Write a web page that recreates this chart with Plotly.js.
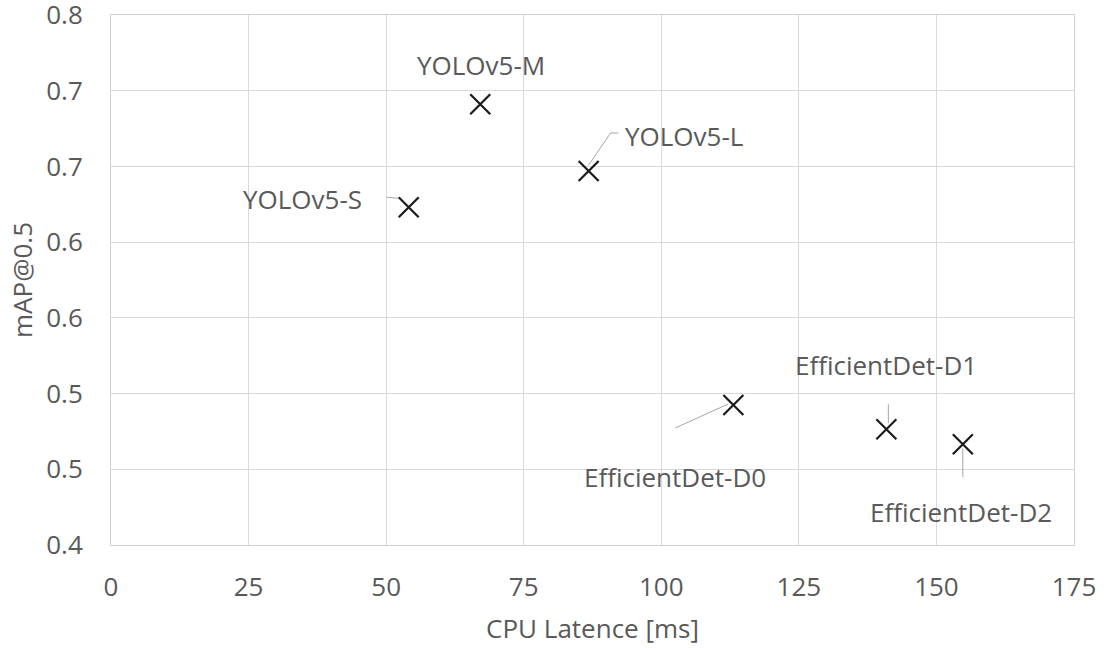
<!DOCTYPE html>
<html>
<head>
<meta charset="utf-8">
<script src="https://cdn.plot.ly/plotly-3.0.1.min.js"></script>
<style>
  html, body { margin: 0; padding: 0; background: #ffffff; }
  #chart { width: 1107px; height: 648px; }
</style>
</head>
<body>
<div id="chart"></div>
<script>
// Detector comparison: CPU latency vs. mAP@0.5
const models    = ['YOLOv5-S', 'YOLOv5-M', 'YOLOv5-L', 'EfficientDet-D0', 'EfficientDet-D1', 'EfficientDet-D2'];
const latencyMs = [54.1, 67.1, 86.8, 113.1, 140.9, 154.8];
const mAP50     = [0.623, 0.691, 0.647, 0.4925, 0.4764, 0.4665];

// Y ticks every 0.05, shown with one decimal
const yTickVals = [0.4, 0.45, 0.5, 0.55, 0.6, 0.65, 0.7, 0.75];
const yTickText = ['0.4', '0.5', '0.5', '0.6', '0.6', '0.7', '0.7', '0.8'];
const xTickVals = [0, 25, 50, 75, 100, 125, 150, 175];

// Label placement per point: text offset and leader polyline (pixels, screen y down)
const labelPlacement = [
  { dx: -106, dy: -8,  leader: [[-22, -10], [-10, -9]] },
  { dx: 1,    dy: -39, leader: [] },
  { dx: 95,   dy: -35, leader: [[30, -38], [22, -38], [0, -6]] },
  { dx: -58,  dy: 72,  leader: [[-58, 23], [-5, -1]] },
  { dx: 0,    dy: -64, leader: [[2, -25], [2, -6]] },
  { dx: -2,   dy: 68,  leader: [[0, 33], [0, 4]] }
];

const FONT = '"Open Sans", "Noto Sans", sans-serif';
const FONT_SIZE = 26;
const TEXT_GREY = '#595959';

const annotations = models.map((name, i) => ({
  x: latencyMs[i], y: mAP50[i], xref: 'x', yref: 'y',
  text: name, showarrow: false,
  xanchor: 'center', yanchor: 'middle',
  xshift: labelPlacement[i].dx, yshift: -labelPlacement[i].dy,
  font: { family: FONT, size: FONT_SIZE, color: TEXT_GREY }
}));

const shapes = [];
models.forEach((name, i) => {
  const pts = labelPlacement[i].leader;
  for (let k = 0; k + 1 < pts.length; k++) {
    shapes.push({
      type: 'line', xref: 'x', yref: 'y',
      xsizemode: 'pixel', ysizemode: 'pixel',
      xanchor: latencyMs[i], yanchor: mAP50[i],
      x0: pts[k][0], y0: -pts[k][1], x1: pts[k + 1][0], y1: -pts[k + 1][1],
      line: { color: '#a6a6a6', width: 1 }
    });
  }
});

const trace = {
  type: 'scatter', mode: 'markers',
  x: latencyMs, y: mAP50, text: models,
  marker: { symbol: 'x-thin-open', size: 20, color: '#1a1a1a', line: { color: '#1a1a1a', width: 2.2 } },
  hoverinfo: 'text+x+y', cliponaxis: false
};

const layout = {
  width: 1107, height: 648,
  margin: { l: 111, r: 33, t: 15, b: 103 },
  paper_bgcolor: '#ffffff', plot_bgcolor: '#ffffff',
  showlegend: false,
  font: { family: FONT, size: FONT_SIZE, color: TEXT_GREY },
  xaxis: {
    range: [0, 175], tickvals: xTickVals, ticktext: xTickVals.map(String),
    showgrid: true, gridcolor: '#d9d9d9', gridwidth: 1,
    showline: true, linecolor: '#d0d0d0', linewidth: 1, mirror: true,
    zeroline: false, ticks: '', ticklabelstandoff: 19, ticklabeloverflow: 'allow',
    tickfont: { family: FONT, size: FONT_SIZE, color: TEXT_GREY },
    title: { text: 'CPU Latence [ms]', standoff: 16, font: { family: FONT, size: FONT_SIZE, color: TEXT_GREY } },
    automargin: false, fixedrange: true
  },
  yaxis: {
    range: [0.4, 0.75], tickvals: yTickVals, ticktext: yTickText,
    showgrid: true, gridcolor: '#d9d9d9', gridwidth: 1,
    showline: true, linecolor: '#d0d0d0', linewidth: 1, mirror: true,
    zeroline: false, ticks: '', ticklabelstandoff: 22, ticklabeloverflow: 'allow',
    tickfont: { family: FONT, size: FONT_SIZE, color: TEXT_GREY },
    title: { text: 'mAP@0.5', standoff: 6, font: { family: FONT, size: FONT_SIZE, color: TEXT_GREY } },
    automargin: false, fixedrange: true
  },
  annotations: annotations,
  shapes: shapes
};

Plotly.newPlot('chart', [trace], layout, { displayModeBar: false, staticPlot: true });
</script>
</body>
</html>
